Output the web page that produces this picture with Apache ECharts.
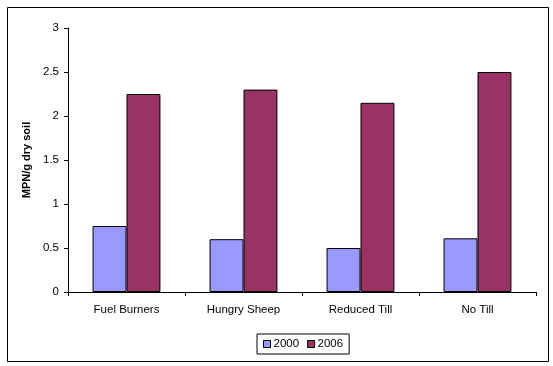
<!DOCTYPE html>
<html><head><meta charset="utf-8">
<script src="https://cdn.jsdelivr.net/npm/echarts@6/dist/echarts.min.js"></script>
<style>html,body{margin:0;padding:0;background:#fff}#c{width:553px;height:366px}</style>
</head><body><div id="c"></div>
<script>
const categories = ['Fuel Burners', 'Hungry Sheep', 'Reduced Till', 'No Till'];
const series2000 = [0.75, 0.6, 0.5, 0.61];
const series2006 = [2.25, 2.3, 2.15, 2.5];
const seriesNames = ['2000', '2006'];
const yTicks = { min: 0, max: 3, interval: 0.5 };
const yTitle = 'MPN/g dry soil';

const font = 'Liberation Sans, Arial, sans-serif';
const chart = echarts.init(document.getElementById('c'), null, { renderer: 'canvas' });
chart.setOption({
  animation: false,
  backgroundColor: '#fff',
  grid: { left: 68, top: 28, right: 17, bottom: 74, containLabel: false },
  graphic: [{
    type: 'rect', left: 5, top: 5, z: 100,
    shape: { width: 541, height: 354 },
    style: { fill: 'none', stroke: '#000', lineWidth: 1 },
    silent: true
  }],
  legend: {
    left: 257, top: 334,
    data: seriesNames,
    orient: 'horizontal',
    icon: 'rect', itemWidth: 7, itemHeight: 7, itemGap: 8,
    borderColor: '#000', borderWidth: 1, padding: [4, 6, 4, 6],
    textStyle: { fontFamily: font, fontSize: 11.5, color: '#000', padding: [0, 0, 0, -2] },
    itemStyle: { borderColor: '#000', borderWidth: 1 }
  },
  xAxis: {
    type: 'category', data: categories,
    axisLine: { lineStyle: { color: '#000', width: 1 } },
    axisTick: { show: true, length: 4, lineStyle: { color: '#000' }, alignWithLabel: false },
    axisLabel: { color: '#000', fontFamily: font, fontSize: 11.5, margin: 12 },
    splitLine: { show: false }
  },
  yAxis: {
    type: 'value', min: yTicks.min, max: yTicks.max, interval: yTicks.interval,
    name: yTitle, nameLocation: 'middle', nameGap: 36, nameRotate: 90,
    nameTextStyle: { fontFamily: font, fontSize: 11, fontWeight: 'bold', color: '#000' },
    axisLine: { show: true, lineStyle: { color: '#000', width: 1 } },
    axisTick: { show: true, length: 4, lineStyle: { color: '#000' } },
    axisLabel: { color: '#000', fontFamily: font, fontSize: 11.5, margin: 9 },
    splitLine: { show: false }
  },
  series: [
    { name: seriesNames[0], type: 'bar', data: series2000, barGap: '0%', barCategoryGap: '42%',
      itemStyle: { color: '#9999FF', borderColor: '#000', borderWidth: 1 } },
    { name: seriesNames[1], type: 'bar', data: series2006, barGap: '0%', barCategoryGap: '42%',
      itemStyle: { color: '#993366', borderColor: '#000', borderWidth: 1 } }
  ]
});
</script></body></html>
